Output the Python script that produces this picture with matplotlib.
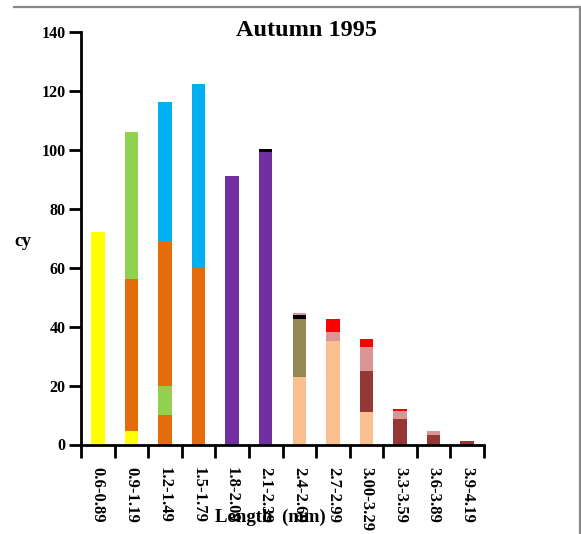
import matplotlib
matplotlib.use("Agg")
import matplotlib.pyplot as plt
import numpy as np
from matplotlib.lines import Line2D

categories = ["0.6-0.89", "0.9-1.19", "1.2-1.49", "1.5-1.79", "1.8-2.09", "2.1-2.39",
              "2.4-2.69", "2.7-2.99", "3.00-3.29", "3.3-3.59", "3.6-3.89", "3.9-4.19"]

# stacked segments, bottom to top (value per category)
yellow   = [72, 4.5, 0, 0, 0, 0, 0, 0, 0, 0, 0, 0]
orange_a = [0, 51.5, 10, 60, 0, 0, 0, 0, 0, 0, 0, 0]
green    = [0, 50, 10, 0, 0, 0, 0, 0, 0, 0, 0, 0]
orange_b = [0, 0, 49, 0, 0, 0, 0, 0, 0, 0, 0, 0]
blue     = [0, 0, 47.3, 62.2, 0, 0, 0, 0, 0, 0, 0, 0]
purple   = [0, 0, 0, 0, 91, 99.3, 0, 0, 0, 0, 0, 0]
peach    = [0, 0, 0, 0, 0, 0, 23, 35.2, 11, 0, 0, 0]
olive    = [0, 0, 0, 0, 0, 0, 19.4, 0, 0, 0, 0, 0]
darkred  = [0, 0, 0, 0, 0, 0, 0, 0, 13.8, 8.8, 3.2, 1.2]
black    = [0, 0, 0, 0, 0, 0.9, 1.6, 0, 0, 0, 0, 0]
pink     = [0, 0, 0, 0, 0, 0, 0.6, 2.8, 8.3, 2.5, 1.5, 0]
red      = [0, 0, 0, 0, 0, 0, 0, 4.4, 2.8, 0.6, 0, 0]

series = [
    (yellow, "#FFFF00"), (orange_a, "#E46C0A"), (green, "#92D050"), (orange_b, "#E46C0A"),
    (blue, "#00B0F0"), (purple, "#7030A0"), (peach, "#FAC090"), (olive, "#948A54"),
    (darkred, "#953735"), (black, "#000000"), (pink, "#D99694"), (red, "#FF0000"),
]

plt.rcParams["font.family"] = ["Liberation Serif", "DejaVu Serif"]

fig = plt.figure(figsize=(5.81, 5.34), dpi=100)
ax = fig.add_axes([81/581, 1-444.5/534, (484-81)/581, (444.5-31.7)/534])

x = np.arange(len(categories))
bottom = np.zeros(len(categories))
for vals, col in series:
    v = np.array(vals, dtype=float)
    ax.bar(x, v, width=0.4, bottom=bottom, color=col, edgecolor="none", zorder=2)
    bottom += v

ax.set_xlim(-0.5, len(categories) - 0.5)
ax.set_ylim(0, 140)
ax.set_yticks(np.arange(0, 141, 20))
ax.set_yticklabels([str(v) for v in range(0, 141, 20)], fontsize=11.5, fontweight="bold")
ax.set_xticks(np.arange(-0.5, len(categories), 1.0))
ax.set_xticklabels([])
ax.set_xticks(x, minor=True)
ax.set_xticklabels(categories, minor=True, rotation=270, fontsize=12, fontweight="bold",
                   va="top", ha="center")
ax.tick_params(axis="x", which="minor", length=0, pad=16)
ax.tick_params(axis="both", which="major", length=9, width=2, direction="out", color="black")
ax.tick_params(axis="y", pad=2)

for s in ["top", "right"]:
    ax.spines[s].set_visible(False)
for s in ["left", "bottom"]:
    ax.spines[s].set_linewidth(2)

fig.text(307/581, 1-30/534, "Autumn 1995", ha="center", va="center", fontsize=17.5, fontweight="bold")
fig.text(270/581, 1-517/534, "Length  (mm)", ha="center", va="center", fontsize=13.5, fontweight="bold")
fig.text(23/581, 1-241/534, "cy", ha="center", va="center", fontsize=13, fontweight="bold")

# outer frame lines
fig.add_artist(Line2D([14/581, 580/581], [1-6.5/534, 1-6.5/534], color="#888888", lw=1.6,
                      transform=fig.transFigure))
fig.add_artist(Line2D([580/581, 580/581], [1-6.5/534, 0], color="#888888", lw=1.6,
                      transform=fig.transFigure))

fig.savefig("out.png", dpi=100)
